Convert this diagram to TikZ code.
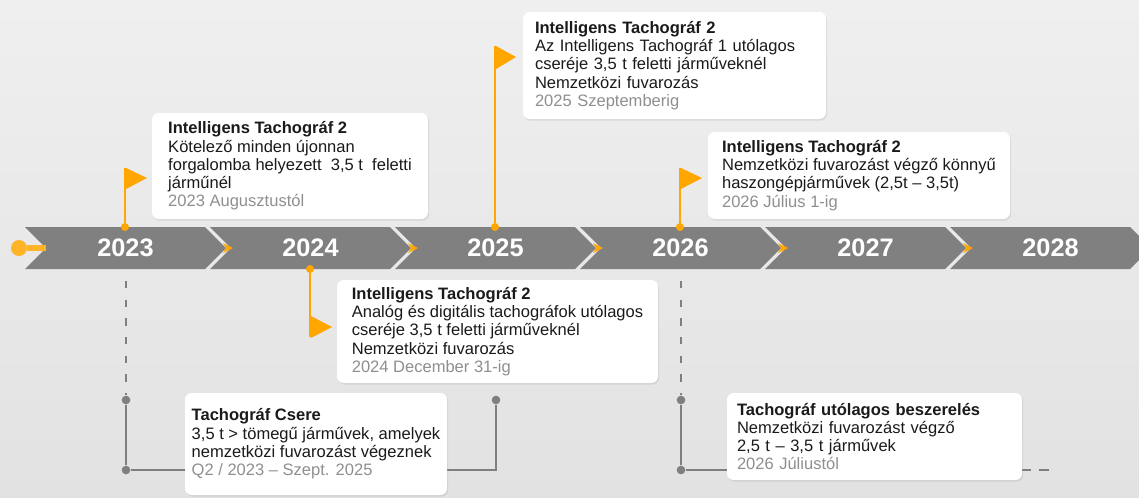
\documentclass[tikz,border=0pt]{standalone}
\usepackage{fontspec}
\setmainfont{Liberation Sans}
\usepackage{tikz}
\usetikzlibrary{shapes.symbols, shadows}
\definecolor{band}{HTML}{808080}
\definecolor{flag}{HTML}{FFA600}
\definecolor{lin}{HTML}{7F7F7F}
\definecolor{dat}{HTML}{8F8F8F}
\definecolor{txt}{HTML}{1A1A1A}
\definecolor{bgl}{HTML}{EFEFEF}
\definecolor{bgd}{HTML}{E2E2E2}
\tikzstyle{seg}=[fill=band, shape=signal, signal to=east, signal from=west, signal pointer angle=90, minimum width=150.75pt, minimum height=31.5pt, inner sep=0pt, text=white, font=\fontsize{19}{19}\selectfont\bfseries]
\tikzstyle{box}=[fill=white, rounded corners=5pt, drop shadow={shadow xshift=0.8pt, shadow yshift=-1.2pt, opacity=0.18}, align=left, text=txt, inner xsep=4pt, inner ysep=0pt, font=\fontsize{12.4}{13.7}\selectfont]
\tikzstyle{pin}=[fill=flag, draw=none, shape=circle, inner sep=0pt, minimum size=6pt]
\tikzstyle{gdot}=[fill=lin, draw=none, shape=circle, inner sep=0pt, minimum size=6.5pt]
\tikzstyle{pole}=[draw=flag, line width=2.2pt]
\tikzstyle{gline}=[draw=lin, line width=2.2pt]

\begin{document}
\begin{tikzpicture}[x=0.75pt, y=-0.75pt]
		\useasboundingbox (0,0) rectangle (1139,497);
		\shade[top color=bgl, bottom color=bgd] (0,0) rectangle (1139,497);

		% grey brackets below the band
		\node[style=gdot] (31) at (126,400) {};
		\node[style=gdot] (32) at (126,470) {};
		\node[style=gdot] (33) at (496,400) {};
		\node[style=gdot] (34) at (681,400) {};
		\node[style=gdot] (35) at (681,470) {};
		\coordinate (36) at (496,470);
		\coordinate (37) at (1020,470);
		\coordinate (38) at (1050,470);
		\coordinate (39) at (126,281);
		\coordinate (40) at (681,281);

		\draw[style=gline, dash pattern=on 5.5pt off 8.5pt] (39) to (31);
		\draw[style=gline, dash pattern=on 5.5pt off 8.5pt] (40) to (34);
		\draw[style=gline] (31) to (32) to (36) to (33);
		\draw[style=gline] (34) to (35) to (37);
		\draw[style=gline, dash pattern=on 8pt off 6pt] (37) to (38);

		% timeline band
		\node[style=seg] (1) at (125.5,248) {2023};
		\node[style=seg] (2) at (310.5,248) {2024};
		\node[style=seg] (3) at (495.5,248) {2025};
		\node[style=seg] (4) at (680.5,248) {2026};
		\node[style=seg] (5) at (865.5,248) {2027};
		\node[style=seg] (6) at (1050.5,248) {2028};

		\fill[flag] (223,243) -- (233,248) -- (223,253) -- (226,248) -- cycle;
		\fill[flag] (408,243) -- (418,248) -- (408,253) -- (411,248) -- cycle;
		\fill[flag] (593,243) -- (603,248) -- (593,253) -- (596,248) -- cycle;
		\fill[flag] (778,243) -- (788,248) -- (778,253) -- (781,248) -- cycle;
		\fill[flag] (963,243) -- (973,248) -- (963,253) -- (966,248) -- cycle;

		\node[fill=flag!85!white, shape=circle, inner sep=0pt, minimum size=12pt] (7) at (19,248) {};
		\coordinate (8) at (46,248);
		\draw[draw=flag!85!white, line width=4.5pt] (7) to (8);

		% flags
		\node[style=pin] (11) at (125,227) {};
		\node[style=pin] (12) at (310,269) {};
		\node[style=pin] (13) at (495,227) {};
		\node[style=pin] (14) at (680,227) {};
		\coordinate (15) at (125,168);
		\coordinate (16) at (310,337);
		\coordinate (17) at (495,46);
		\coordinate (18) at (680,168);

		\draw[style=pole] (11) to (15);
		\draw[style=pole] (12) to (16);
		\draw[style=pole] (13) to (17);
		\draw[style=pole] (14) to (18);
		\fill[flag] (126,168) -- (147,178) -- (126,189) -- cycle;
		\fill[flag] (311,316) -- (332,327) -- (311,338) -- cycle;
		\fill[flag] (496,46) -- (516,57) -- (496,69) -- cycle;
		\fill[flag] (681,168) -- (702,178) -- (681,189) -- cycle;

		% text boxes
		\node[style=box, minimum width=207pt, minimum height=79.5pt] (21) at (290,166)
			{\textbf{Intelligens Tachográf 2}\\Kötelező minden újonnan\\forgalomba helyezett\ \ 3,5 t\ \ feletti\\járműnél\\\textcolor{dat}{2023 Augusztustól}};
		\node[style=box, inner xsep=9pt, text width=209.25pt, minimum height=80.25pt] (22) at (674.5,65.5)
			{\textbf{Intelligens Tachográf 2}\\Az Intelligens Tachográf 1 utólagos\\cseréje 3,5 t feletti járműveknél\\Nemzetközi fuvarozás\\\textcolor{dat}{2025 Szeptemberig}};
		\node[style=box, minimum width=226.5pt, minimum height=65.25pt] (23) at (859,175.5)
			{\textbf{Intelligens Tachográf 2}\\Nemzetközi fuvarozást végző könnyű\\haszongépjárművek (2,5t – 3,5t)\\\textcolor{dat}{2026 Július 1-ig}};
		\node[style=box, minimum width=240.75pt, minimum height=77.25pt] (24) at (497.5,331.5)
			{\textbf{Intelligens Tachográf 2}\\Analóg és digitális tachográfok utólagos\\cseréje 3,5 t feletti járműveknél\\Nemzetközi fuvarozás\\\textcolor{dat}{2024 December 31-ig}};
		\node[style=box, minimum width=196.5pt, minimum height=76.5pt] (25) at (316,444)
			{\textbf{Tachográf Csere}\\3,5 t > tömegű járművek, amelyek\\nemzetközi fuvarozást végeznek\\\textcolor{dat}{Q2 / 2023 – Szept. 2025}};
		\node[style=box, inner xsep=7.5pt, text width=206.25pt, minimum height=65.25pt] (26) at (874.5,436.5)
			{\textbf{Tachográf utólagos beszerelés}\\Nemzetközi fuvarozást végző\\2,5 t – 3,5 t járművek\\\textcolor{dat}{2026 Júliustól}};
	\end{tikzpicture}
\end{document}
